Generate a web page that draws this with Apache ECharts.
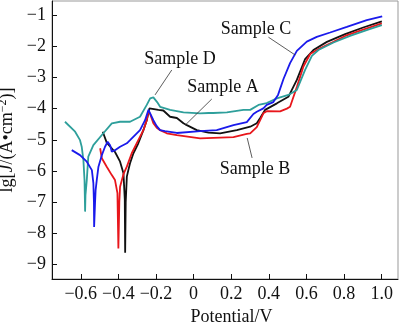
<!DOCTYPE html>
<html><head><meta charset="utf-8">
<script src="https://cdn.jsdelivr.net/npm/echarts@6/dist/echarts.min.js"></script>
<style>html,body{margin:0;padding:0;background:#fff}#c{width:400px;height:322px}</style>
</head><body><div id="c"></div>
<script>
const seriesNames = ['Sample A', 'Sample B', 'Sample C', 'Sample D'];

const sampleA_x = [-0.483,-0.462,-0.418,-0.391,-0.373,-0.366,-0.364,-0.361,-0.355,-0.347,-0.338,-0.320,-0.294,-0.267,-0.249,-0.235,-0.231,-0.187,-0.161,-0.125,-0.089,-0.054,-0.036,0.017,0.079,0.141,0.230,0.301,0.336,0.354,0.380,0.443,0.504,0.549,0.593,0.637,0.709,0.806,0.902,1.001];
const sampleA_y = [-4.74,-5.09,-5.39,-5.70,-6.07,-6.90,-8.62,-7.00,-6.18,-5.97,-5.75,-5.43,-5.11,-4.69,-4.37,-3.99,-3.96,-4.04,-4.06,-4.26,-4.30,-4.47,-4.53,-4.69,-4.77,-4.79,-4.69,-4.58,-4.47,-4.30,-4.04,-3.83,-3.62,-3.08,-2.41,-2.12,-1.86,-1.61,-1.40,-1.20];

const sampleB_x = [-0.497,-0.488,-0.462,-0.435,-0.418,-0.405,-0.400,-0.395,-0.391,-0.373,-0.355,-0.329,-0.294,-0.267,-0.249,-0.240,-0.231,-0.214,-0.196,-0.178,-0.143,-0.089,0.035,0.212,0.283,0.301,0.336,0.354,0.371,0.389,0.460,0.496,0.513,0.529,0.549,0.584,0.620,0.664,0.744,0.806,0.886,1.001];
const sampleB_y = [-5.27,-5.59,-5.86,-6.13,-6.29,-6.71,-8.48,-7.00,-6.50,-6.10,-5.86,-5.43,-5.01,-4.69,-4.37,-4.09,-4.17,-4.47,-4.61,-4.69,-4.79,-4.85,-4.95,-4.91,-4.81,-4.79,-4.59,-4.37,-4.15,-4.08,-4.09,-4.00,-3.94,-3.66,-3.31,-2.65,-2.25,-2.09,-1.86,-1.67,-1.50,-1.27];

const sampleC_x = [-0.648,-0.604,-0.568,-0.541,-0.533,-0.530,-0.529,-0.524,-0.521,-0.515,-0.506,-0.488,-0.471,-0.457,-0.444,-0.435,-0.418,-0.391,-0.355,-0.338,-0.285,-0.258,-0.240,-0.231,-0.214,-0.196,-0.178,-0.152,-0.089,0.035,0.123,0.212,0.283,0.318,0.336,0.371,0.389,0.424,0.449,0.478,0.513,0.549,0.602,0.655,0.726,0.815,0.921,1.003];
const sampleC_y = [-5.33,-5.49,-5.70,-5.97,-6.39,-7.00,-7.79,-7.00,-6.61,-6.29,-5.86,-5.49,-5.22,-5.06,-5.17,-5.38,-5.33,-5.22,-5.11,-5.01,-4.69,-4.37,-4.04,-3.99,-4.37,-4.56,-4.69,-4.72,-4.78,-4.72,-4.69,-4.53,-4.43,-4.17,-4.10,-3.99,-3.88,-3.79,-3.56,-3.05,-2.54,-2.15,-1.85,-1.70,-1.56,-1.38,-1.16,-1.04];

const sampleD_x = [-0.684,-0.630,-0.604,-0.595,-0.586,-0.580,-0.577,-0.575,-0.568,-0.560,-0.533,-0.480,-0.435,-0.391,-0.338,-0.285,-0.249,-0.231,-0.214,-0.194,-0.178,-0.125,-0.054,0.035,0.079,0.088,0.104,0.177,0.265,0.301,0.345,0.389,0.443,0.504,0.549,0.593,0.629,0.664,0.744,0.832,0.928,1.001];
const sampleD_y = [-4.42,-4.74,-5.01,-5.22,-5.65,-6.30,-7.30,-6.77,-6.29,-5.54,-5.17,-4.79,-4.47,-4.42,-4.42,-4.26,-3.88,-3.67,-3.64,-3.79,-3.94,-4.04,-4.12,-4.15,-4.14,-4.09,-4.14,-4.12,-4.04,-4.04,-3.88,-3.82,-3.67,-3.56,-3.40,-2.76,-2.31,-2.12,-1.88,-1.67,-1.47,-1.32];

// annotation label positions (data coords) and leader lines
const labelText = ['Sample C', 'Sample D', 'Sample A', 'Sample B'];
const labelPos = [[0.332, -1.45], [-0.072, -2.41], [0.156, -3.32], [0.327, -5.95]];
const leaderFrom = [[0.398, -1.71], [-0.116, -2.76], [0.097, -3.69], [0.285, -4.94]];
const leaderTo = [[0.540, -2.28], [-0.205, -3.56], [-0.045, -4.53], [0.311, -5.58]];

const colors = ['#111111', '#e8161b', '#1a1aeb', '#2e9f9b'];
const FONT = '"Liberation Serif", "Times New Roman", serif';

function zip(xs, ys) { return xs.map((x, i) => [x, ys[i]]); }
const allX = [sampleA_x, sampleB_x, sampleC_x, sampleD_x];
const allY = [sampleA_y, sampleB_y, sampleC_y, sampleD_y];

function fmt(v) {
  if (Math.abs(v) < 1e-9) return '0';
  return v.toFixed(1).replace('-', '\u2212');
}

const chart = echarts.init(document.getElementById('c'), null, { renderer: 'canvas' });
chart.setOption({
  animation: false,
  backgroundColor: '#fff',
  grid: { left: 52, right: 2, top: 1, bottom: 43, show: true, borderColor: '#999', borderWidth: 1, containLabel: false, outerBoundsMode: 'none' },
  xAxis: {
    type: 'value', min: -0.753, max: 1.087, splitNumber: 9, minInterval: 0.2, maxInterval: 0.2,
    name: 'Potential/V', nameLocation: 'middle', nameGap: 24,
    nameTextStyle: { fontFamily: FONT, fontSize: 18, color: '#111', padding: [0, 0, 0, 13] },
    axisLine: { onZero: false, lineStyle: { color: '#111', width: 1 } },
    axisTick: { inside: true, length: 5, lineStyle: { color: '#111' } },
    splitLine: { show: false },
    axisLabel: {
      showMinLabel: false, showMaxLabel: false, margin: 6,
      fontFamily: FONT, fontSize: 18, color: '#111',
      formatter: v => (Math.abs(v / 0.2 - Math.round(v / 0.2)) > 1e-6 ? '' : fmt(v))
    }
  },
  yAxis: {
    type: 'value', min: -9.46, max: -0.55, splitNumber: 9, minInterval: 1, maxInterval: 1,
    name: '{n|lg[}{i|J}{n|/(A\u2022cm}{s|\u22122}{n|)]}', nameLocation: 'middle', nameGap: 34,
    nameTextStyle: {
      fontFamily: FONT, fontSize: 18, color: '#111',
      rich: {
        n: { fontFamily: FONT, fontSize: 18, color: '#111', lineHeight: 20 },
        i: { fontFamily: FONT, fontSize: 18, color: '#111', fontStyle: 'italic', lineHeight: 20 },
        s: { fontFamily: FONT, fontSize: 12, color: '#111', verticalAlign: 'top', lineHeight: 20 }
      }
    },
    axisLine: { onZero: false, lineStyle: { color: '#111', width: 1 } },
    axisTick: { inside: true, length: 5, lineStyle: { color: '#111' } },
    splitLine: { show: false },
    axisLabel: {
      showMinLabel: false, showMaxLabel: false, margin: 6,
      fontFamily: FONT, fontSize: 18, color: '#111',
      formatter: v => (Math.abs(v - Math.round(v)) > 1e-6 ? '' : String(Math.round(v)).replace('-', '\u2212'))
    }
  },
  series: seriesNames.map((n, i) => ({
    name: n, type: 'line', showSymbol: false, symbol: 'none', smooth: false,
    data: zip(allX[i], allY[i]),
    lineStyle: { color: colors[i], width: 1.8 },
    z: i === 2 ? 4 : 3
  }))
});

const g = [];
labelText.forEach((t, i) => {
  const p = chart.convertToPixel({ gridIndex: 0 }, labelPos[i]);
  g.push({ type: 'text', x: p[0], y: p[1], style: { text: t, fontFamily: FONT, fontSize: 18, fill: '#111', align: 'center', verticalAlign: 'middle' }, z: 10 });
  const a = chart.convertToPixel({ gridIndex: 0 }, leaderFrom[i]);
  const b = chart.convertToPixel({ gridIndex: 0 }, leaderTo[i]);
  g.push({ type: 'line', shape: { x1: a[0], y1: a[1], x2: b[0], y2: b[1] }, style: { stroke: '#333', lineWidth: 0.8 }, z: 10 });
});
chart.setOption({ graphic: g });
</script>
</body></html>
